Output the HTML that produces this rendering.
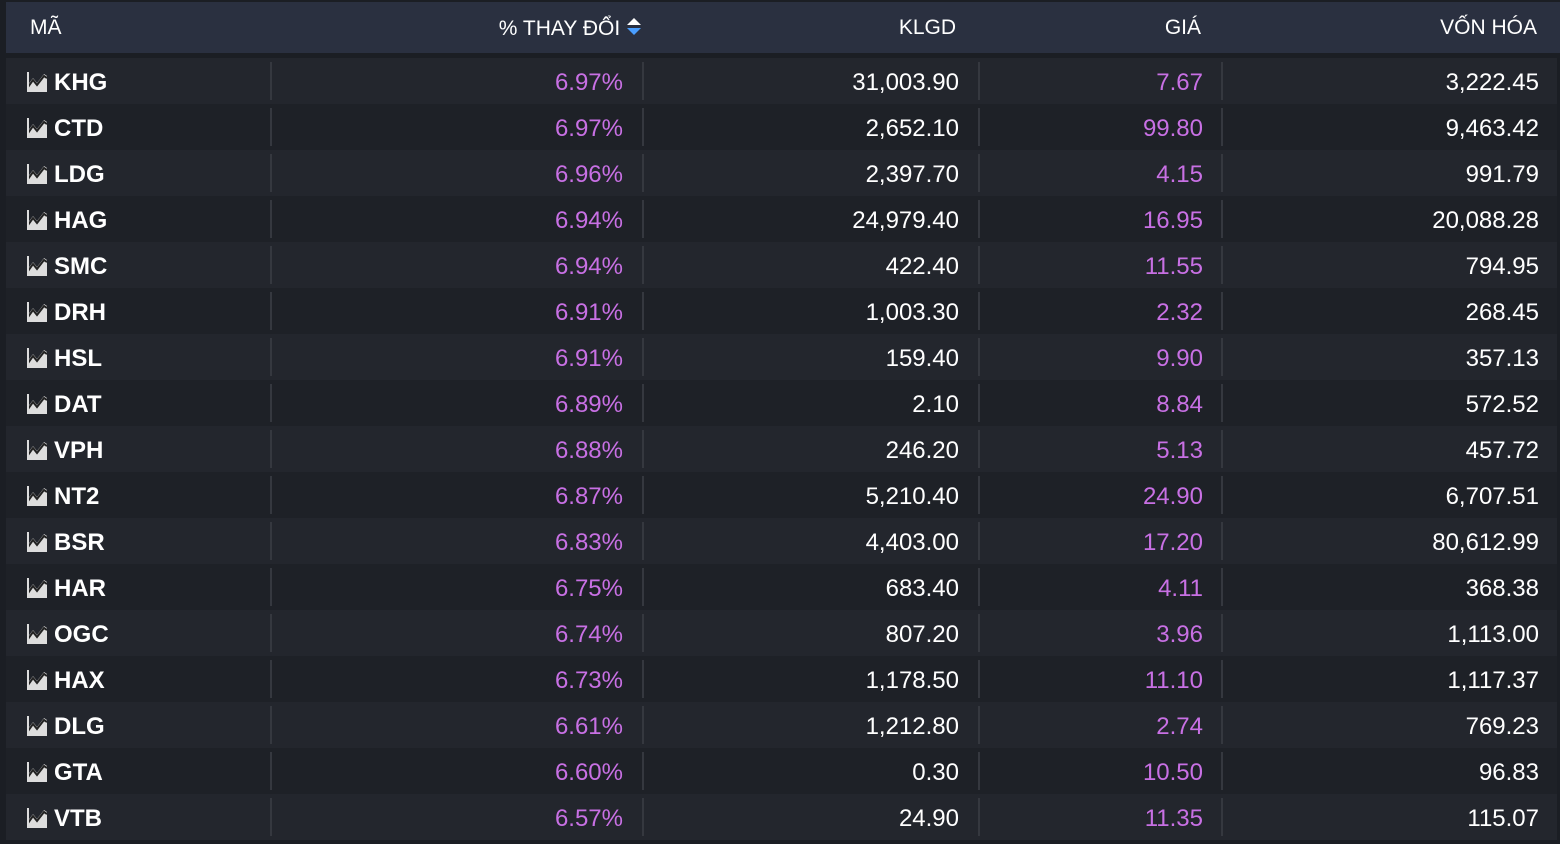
<!DOCTYPE html>
<html><head><meta charset="utf-8"><style>
*{margin:0;padding:0;box-sizing:border-box}
body{width:1560px;height:844px;background:#1b1e24;font-family:"Liberation Sans",sans-serif;overflow:hidden;position:relative}
.hdr{position:absolute;left:6px;top:2px;width:1554px;height:51px;background:#2a3040;color:#fff;font-size:21px}
.hdr span{position:absolute;top:14px}
.row{position:absolute;left:6px;width:1551px;height:46px;font-size:24px}
.row.a{background:#23262d}.row.b{background:#1e2127}
.row span{position:absolute;top:11px;white-space:nowrap}
.d{position:absolute;top:4px;width:2px;height:38px;background:#35383f}
.t{left:48px;color:#fff;font-weight:bold}
.p{right:934px;color:#c870e4}
.k{right:598px;color:#fff}
.g{right:354px;color:#c870e4}
.v{right:18px;color:#fff}
svg.ic{position:absolute;left:21px;top:14px}
</style></head><body>
<div class="hdr">
<span style="left:24px">MÃ</span>
<span style="right:918px">% THAY ĐỔI <svg width="16" height="22" viewBox="0 0 16 22" style="vertical-align:-3px"><polygon points="8,2 15,9 1,9" fill="#fff"/><polygon points="1,12 15,12 8,19" fill="#4a9eff"/></svg></span>
<span style="right:604px">KLGD</span>
<span style="right:359px">GIÁ</span>
<span style="right:23px">VỐN HÓA</span>
</div>
<div id="rows"></div>
<script>
const d=[["KHG","6.97%","31,003.90","7.67","3,222.45"],["CTD","6.97%","2,652.10","99.80","9,463.42"],["LDG","6.96%","2,397.70","4.15","991.79"],["HAG","6.94%","24,979.40","16.95","20,088.28"],["SMC","6.94%","422.40","11.55","794.95"],["DRH","6.91%","1,003.30","2.32","268.45"],["HSL","6.91%","159.40","9.90","357.13"],["DAT","6.89%","2.10","8.84","572.52"],["VPH","6.88%","246.20","5.13","457.72"],["NT2","6.87%","5,210.40","24.90","6,707.51"],["BSR","6.83%","4,403.00","17.20","80,612.99"],["HAR","6.75%","683.40","4.11","368.38"],["OGC","6.74%","807.20","3.96","1,113.00"],["HAX","6.73%","1,178.50","11.10","1,117.37"],["DLG","6.61%","1,212.80","2.74","769.23"],["GTA","6.60%","0.30","10.50","96.83"],["VTB","6.57%","24.90","11.35","115.07"]];
let h="";
d.forEach((r,i)=>{h+=`<div class="row ${i%2?'b':'a'}" style="top:${58+i*46}px">
<svg class="ic" width="20" height="20" viewBox="0 0 20 20"><polygon points="0,20 0,14 6,6 10,11 17,2 20,4 20,20" fill="#ddd"/><polyline points="1,15 6,8 10,13 17,4 20,6" fill="none" stroke="#222" stroke-width="2"/><polygon points="0,0 2,0 2,20 0,20" fill="#ddd"/></svg>
<span class="t">${r[0]}</span><div class="d" style="left:264px"></div><span class="p">${r[1]}</span><div class="d" style="left:636px"></div><span class="k">${r[2]}</span><div class="d" style="left:972px"></div><span class="g">${r[3]}</span><div class="d" style="left:1215px"></div><span class="v">${r[4]}</span></div>`});
document.getElementById("rows").innerHTML=h;
</script>
</body></html>
